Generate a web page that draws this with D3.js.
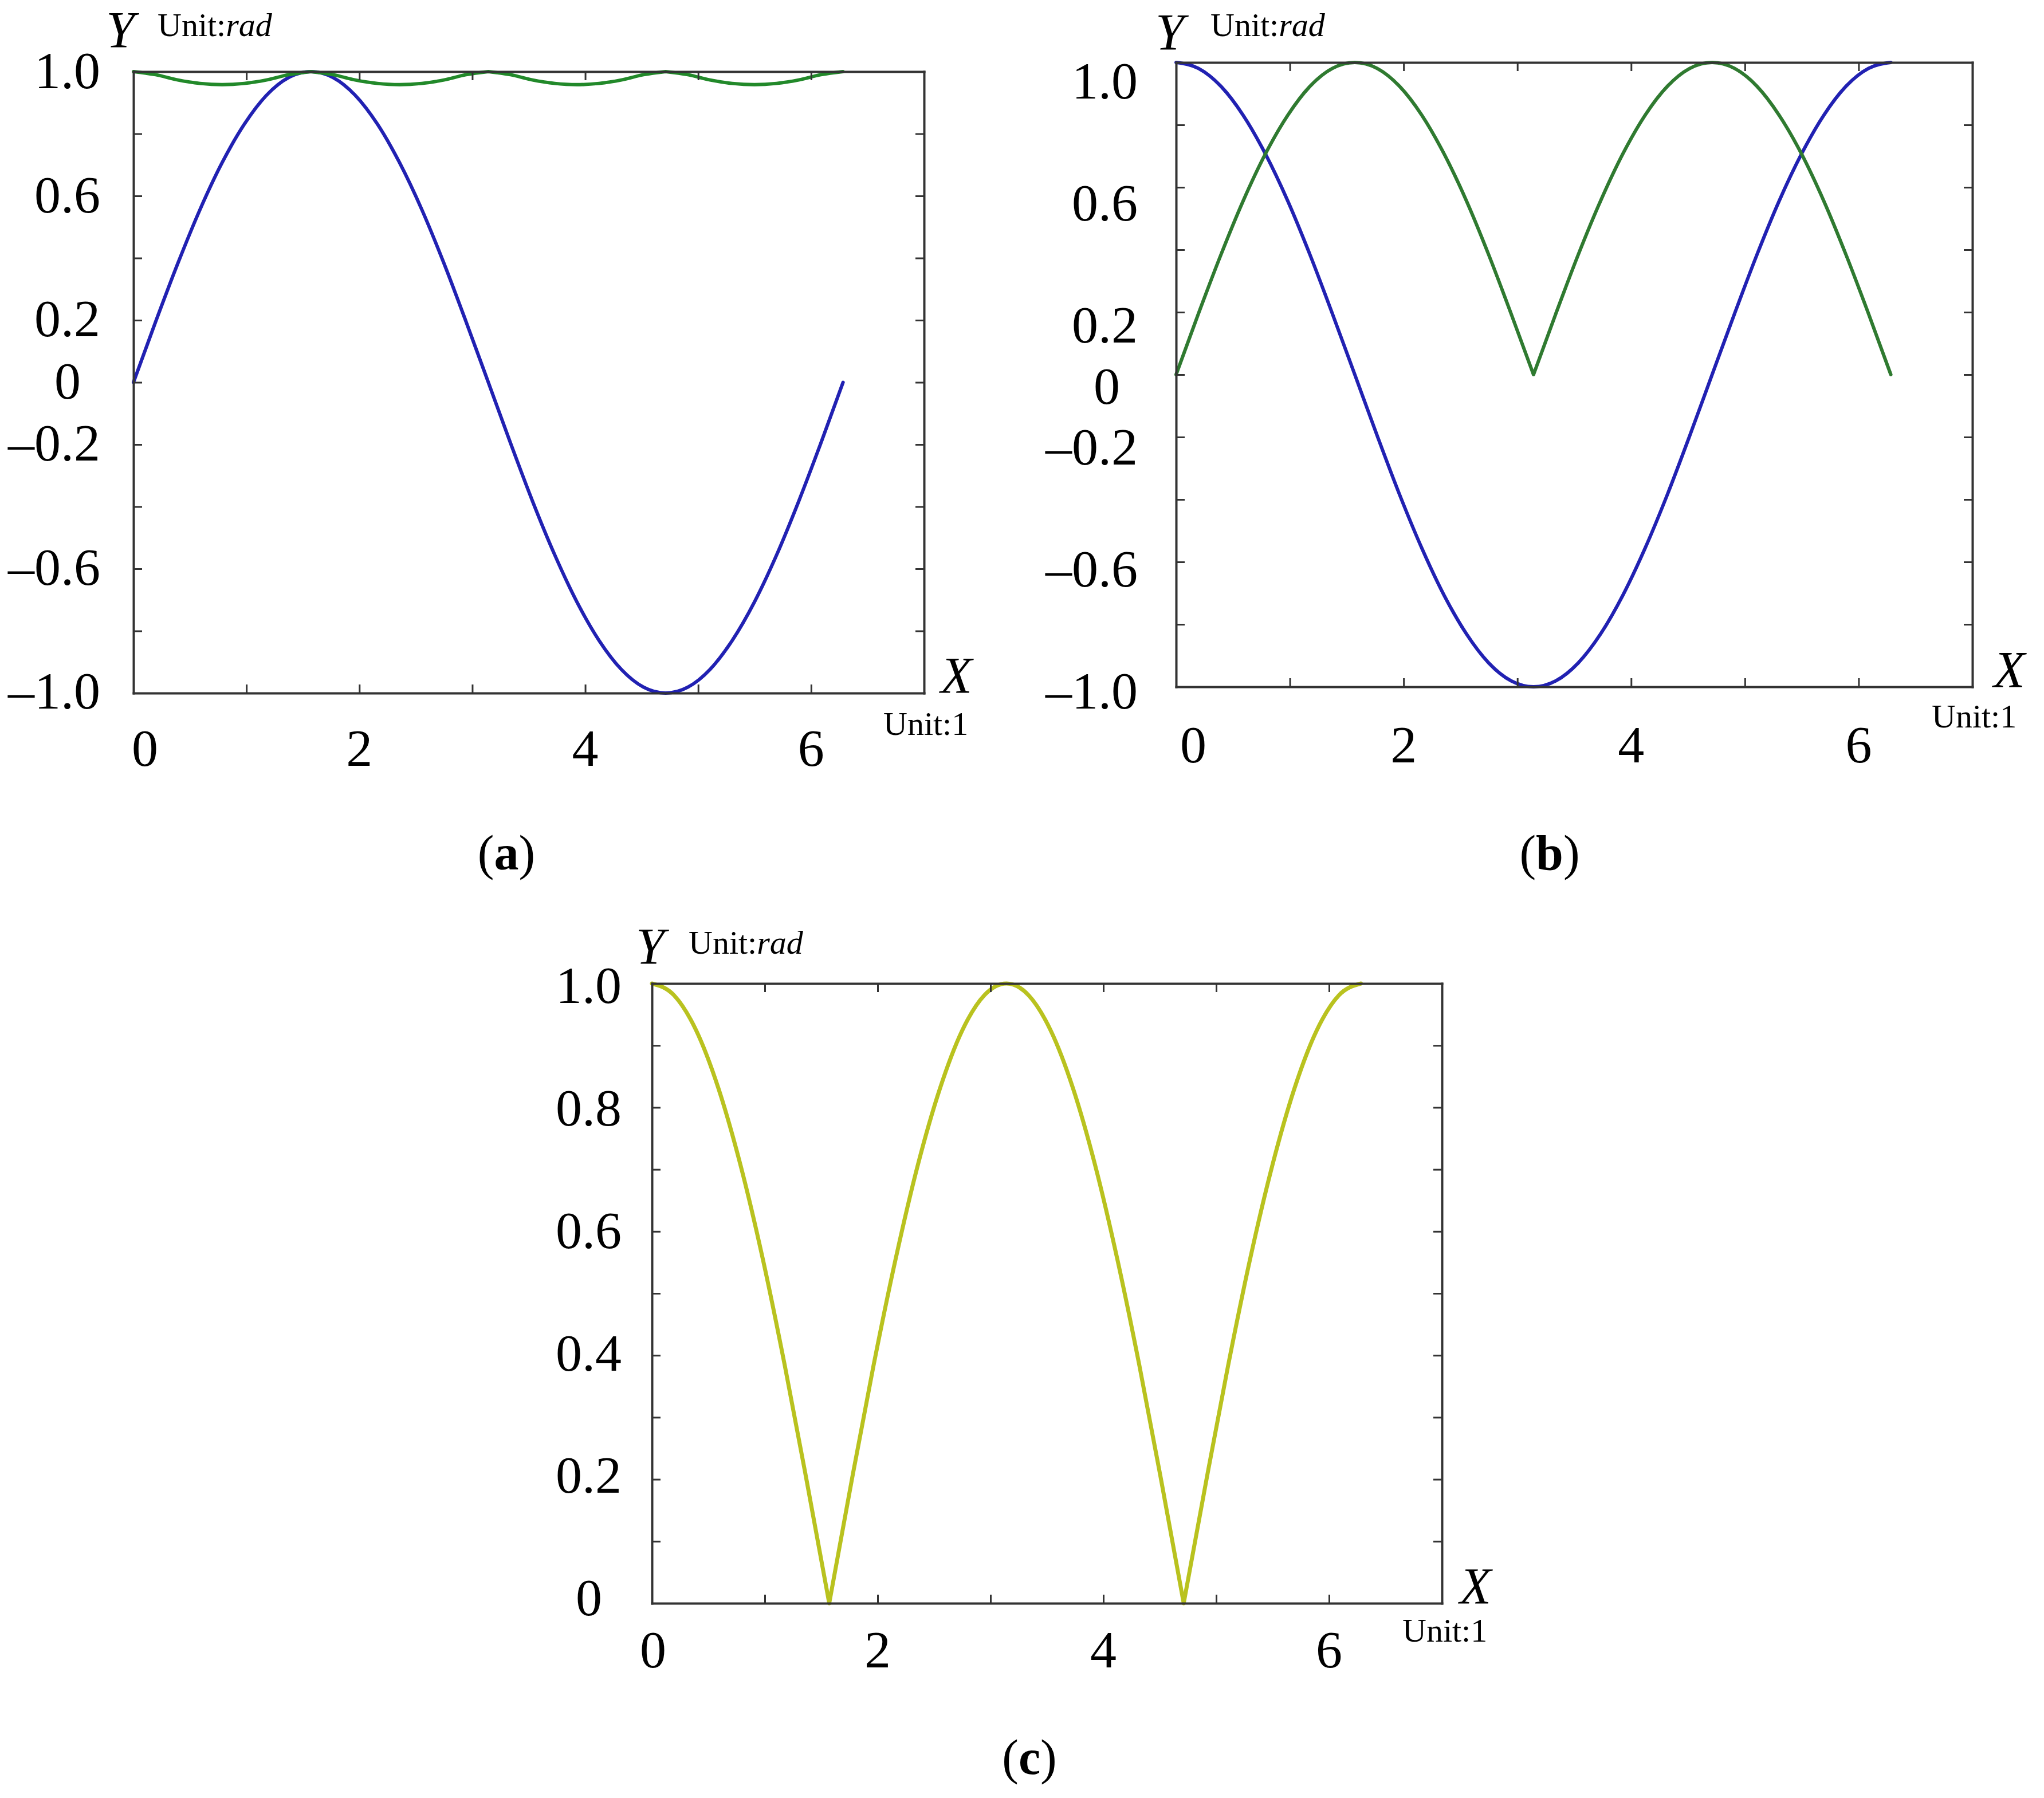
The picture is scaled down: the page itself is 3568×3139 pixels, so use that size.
<!DOCTYPE html>
<html><head><meta charset="utf-8">
<script src="https://cdn.jsdelivr.net/npm/d3@7"></script>
<style>body{margin:0;background:#fff}svg{display:block}</style>
</head><body><svg id="chart" width="3568" height="3139"></svg>
<script>
// ---- data (x in units, y in rad) ----
const xValues = [0, 0.196, 0.393, 0.589, 0.785, 0.982, 1.178, 1.374, 1.571, 1.767, 1.963, 2.160, 2.356, 2.553, 2.749, 2.945, 3.142, 3.338, 3.534, 3.731, 3.927, 4.123, 4.320, 4.516, 4.712, 4.909, 5.105, 5.301, 5.498, 5.694, 5.890, 6.087, 6.283];
const aBlue = [0, 0.195, 0.383, 0.556, 0.707, 0.831, 0.924, 0.981, 1, 0.981, 0.924, 0.831, 0.707, 0.556, 0.383, 0.195, 0, -0.195, -0.383, -0.556, -0.707, -0.831, -0.924, -0.981, -1, -0.981, -0.924, -0.831, -0.707, -0.556, -0.383, -0.195, 0];
const aGreen = [1, 0.99, 0.973, 0.962, 0.958, 0.962, 0.973, 0.99, 1, 0.99, 0.973, 0.962, 0.958, 0.962, 0.973, 0.99, 1, 0.99, 0.973, 0.962, 0.958, 0.962, 0.973, 0.99, 1, 0.99, 0.973, 0.962, 0.958, 0.962, 0.973, 0.99, 1];
const bBlue = [1, 0.981, 0.924, 0.831, 0.707, 0.556, 0.383, 0.195, 0, -0.195, -0.383, -0.556, -0.707, -0.831, -0.924, -0.981, -1, -0.981, -0.924, -0.831, -0.707, -0.556, -0.383, -0.195, 0, 0.195, 0.383, 0.556, 0.707, 0.831, 0.924, 0.981, 1];
const bGreen = [0, 0.195, 0.383, 0.556, 0.707, 0.831, 0.924, 0.981, 1, 0.981, 0.924, 0.831, 0.707, 0.556, 0.383, 0.195, 0, 0.195, 0.383, 0.556, 0.707, 0.831, 0.924, 0.981, 1, 0.981, 0.924, 0.831, 0.707, 0.556, 0.383, 0.195, 0];
const cYellow = [1, 0.981, 0.924, 0.831, 0.707, 0.556, 0.383, 0.195, 0, 0.195, 0.383, 0.556, 0.707, 0.831, 0.924, 0.981, 1, 0.981, 0.924, 0.831, 0.707, 0.556, 0.383, 0.195, 0, 0.195, 0.383, 0.556, 0.707, 0.831, 0.924, 0.981, 1];

const xDomain = [0, 7];
const xTickValues = [1, 2, 3, 4, 5, 6];
const xLabelValues = [0, 2, 4, 6];
const xLabelTexts = ["0", "2", "4", "6"];
const yTickValuesAB = [-0.8, -0.6, -0.4, -0.2, 0, 0.2, 0.4, 0.6, 0.8];
const yLabelValuesAB = [1, 0.6, 0.2, 0, -0.2, -0.6, -1];
const yLabelTextsAB = ["1.0", "0.6", "0.2", "0", "\u20130.2", "\u20130.6", "\u20131.0"];
const yTickValuesC = [0.1, 0.2, 0.3, 0.4, 0.5, 0.6, 0.7, 0.8, 0.9];
const yLabelValuesC = [1, 0.8, 0.6, 0.4, 0.2, 0];
const yLabelTextsC = ["1.0", "0.8", "0.6", "0.4", "0.2", "0"];
const captionLetters = ["a", "b", "c"];

// ---- layout / style ----
const FONT = "'Liberation Serif','Times New Roman',serif";
const BLUE = "#2121b2", GREEN_A = "#22892a", GREEN_B = "#2f7a30", YELLOW = "#b9c21f";

const panels = [
  {left:233, top:125, right:1613, bottom:1210, yDomain:[-1,1],
   yTicks:yTickValuesAB, yLabVals:yLabelValuesAB, yLabTxt:yLabelTextsAB,
   series:[{values:aBlue,color:BLUE,width:6,cusp:null},{values:aGreen,color:GREEN_A,width:6,cusp:"max"}],
   labShift:[-4,-2], yLabRight:58, zeroCenter:115, x0Shift:20, xLabOff:127,
   yName:[185,83], yUnit:[275,63], xName:[1642,1210], xUnit:[1542,1283], caption:[884,1518]},
  {left:2053, top:109, right:3443, bottom:1199, yDomain:[-1,1],
   yTicks:yTickValuesAB, yLabVals:yLabelValuesAB, yLabTxt:yLabelTextsAB,
   series:[{values:bBlue,color:BLUE,width:6,cusp:null},{values:bGreen,color:GREEN_B,width:6,cusp:"min"}],
   labShift:[7,32], yLabRight:67, zeroCenter:121, x0Shift:30, xLabOff:132,
   yName:[2017,87], yUnit:[2113,63], xName:[3480,1200], xUnit:[3372,1270], caption:[2705,1518]},
  {left:1138, top:1717, right:2517, bottom:2799, yDomain:[0,1],
   yTicks:yTickValuesC, yLabVals:yLabelValuesC, yLabTxt:yLabelTextsC,
   series:[{values:cYellow,color:YELLOW,width:7,cusp:"min"}],
   labShift:[-10,3], yLabRight:53, zeroCenter:110, x0Shift:2, xLabOff:112,
   yName:[1110,1683], yUnit:[1202,1665], xName:[2548,2800], xUnit:[2448,2866], caption:[1797,3097]}
];

const svg = d3.select("#chart");
svg.append("rect").attr("width",3568).attr("height",3139).attr("fill","#fff");

function pieces(vals, cusp){
  const pts = xValues.map((x,i)=>[x, vals[i]]);
  if(!cusp) return [pts];
  const out = []; let cur = [pts[0]];
  for(let i=1;i<pts.length;i++){
    cur.push(pts[i]);
    if(i < pts.length-1){
      const a = vals[i-1], b = vals[i], c = vals[i+1];
      const ext = cusp === "max" ? (b >= a && b >= c) : (b <= a && b <= c);
      if(ext){ out.push(cur); cur = [pts[i]]; }
    }
  }
  out.push(cur);
  return out;
}

panels.forEach((p, pi) => {
  const g = svg.append("g");
  const x = d3.scaleLinear().domain(xDomain).range([p.left, p.right]);
  const y = d3.scaleLinear().domain(p.yDomain).range([p.bottom, p.top]);
  const yLab = d3.scaleLinear().domain(p.yDomain).range([p.bottom + p.labShift[0], p.top + p.labShift[1]]);
  const line = d3.line().x(d => x(d[0])).y(d => y(d[1])).curve(d3.curveMonotoneX);

  p.series.forEach(s => {
    const d = pieces(s.values, s.cusp).map(pc => line(pc)).join("");
    g.append("path").attr("d", d).attr("fill","none").attr("stroke", s.color)
      .attr("stroke-width", s.width).attr("stroke-linejoin","round").attr("stroke-linecap","round");
  });

  const axes = [
    [d3.axisLeft(y).tickValues(p.yTicks), `translate(${p.left},0)`],
    [d3.axisRight(y).tickValues(p.yTicks), `translate(${p.right},0)`],
    [d3.axisBottom(x).tickValues(xTickValues), `translate(0,${p.bottom})`],
    [d3.axisTop(x).tickValues(xTickValues), `translate(0,${p.top})`]
  ];
  axes.forEach(([ax, tr]) => {
    const a = g.append("g").attr("transform", tr)
      .call(ax.tickSizeInner(-15).tickSizeOuter(0).tickFormat(""));
    a.select(".domain").attr("stroke","#333").attr("stroke-width",4).attr("stroke-linecap","square");
    a.selectAll(".tick line").attr("stroke","#333").attr("stroke-width",3);
  });

  // y tick labels
  p.yLabVals.forEach((v, i) => {
    const t = p.yLabTxt[i];
    const isZero = t === "0";
    g.append("text")
      .attr("x", isZero ? p.left - p.zeroCenter : p.left - p.yLabRight)
      .attr("y", yLab(v)).attr("dy","0.34em")
      .attr("text-anchor", isZero ? "middle" : "end")
      .attr("font-family", FONT).attr("font-size", 92).attr("fill","#000").text(t);
  });
  // x tick labels
  xLabelValues.forEach((v, i) => {
    g.append("text")
      .attr("x", x(v) + (v === 0 ? p.x0Shift : 0))
      .attr("y", p.bottom + p.xLabOff)
      .attr("text-anchor","middle")
      .attr("font-family", FONT).attr("font-size", 92).attr("fill","#000").text(xLabelTexts[i]);
  });
  // axis names
  g.append("text").attr("x", p.yName[0]).attr("y", p.yName[1])
    .attr("font-family", FONT).attr("font-style","italic").attr("font-size", 90).text("Y");
  const yu = g.append("text").attr("x", p.yUnit[0]).attr("y", p.yUnit[1])
    .attr("font-family", FONT).attr("font-size", 58);
  yu.append("tspan").text("Unit:");
  yu.append("tspan").attr("font-style","italic").text("rad");
  g.append("text").attr("x", p.xName[0]).attr("y", p.xName[1])
    .attr("font-family", FONT).attr("font-style","italic").attr("font-size", 90).text("X");
  g.append("text").attr("x", p.xUnit[0]).attr("y", p.xUnit[1])
    .attr("font-family", FONT).attr("font-size", 58).text("Unit:1");
  // caption
  const cap = g.append("text").attr("x", p.caption[0]).attr("y", p.caption[1])
    .attr("text-anchor","middle").attr("font-family", FONT).attr("font-size", 86);
  cap.append("tspan").text("(");
  cap.append("tspan").attr("font-weight","bold").text(captionLetters[pi]);
  cap.append("tspan").text(")");
});
</script>
</body></html>
